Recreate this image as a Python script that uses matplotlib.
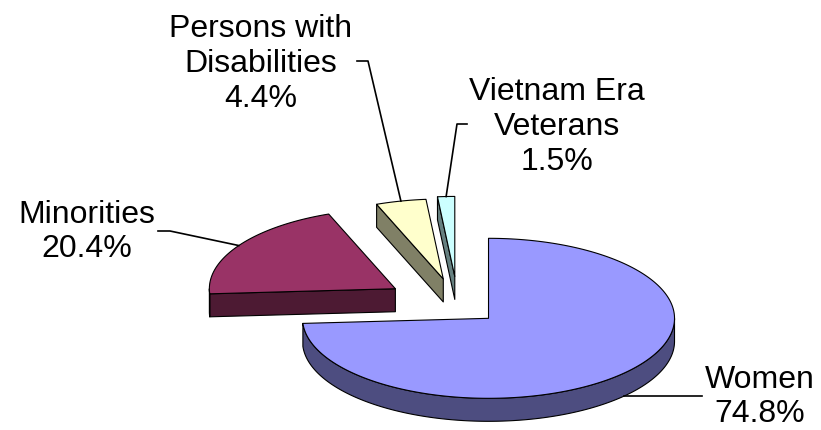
import numpy as np
import matplotlib
matplotlib.use("Agg")
import matplotlib.pyplot as plt
from matplotlib.patches import Polygon

# ---- data ----
categories = ["Women", "Minorities", "Persons with\nDisabilities", "Vietnam Era\nVeterans"]
values = [74.8, 20.4, 4.4, 1.5]
value_labels = ["74.8%", "20.4%", "4.4%", "1.5%"]

# ---- style / layout ----
top_colors = ["#9999FF", "#993366", "#FFFFCC", "#CCFFFF"]
side_colors = ["#4D4D80", "#4D1A33", "#808066", "#668080"]
explode = [0.225, 0.40, 0.347, 0.37]
CX, CY = 458.0, 307.0      # pie centre (pixel-like data units, y down)
RX, RY = 186.0, 80.0       # ellipse radii of top face
DEPTH = 23.0               # thickness
START = 90.0               # start angle, clockwise
FONT = dict(family=["Liberation Sans", "DejaVu Sans"], fontsize=23)
label_pos = [(760, 397), (87, 232), (261, 64), (557, 127)]
label_hook = [(702, None), (158, 232), (357, 62), (467, 125)]
hook_len = [0, 12, 11, -10]

fig = plt.figure(figsize=(8.21, 4.31), dpi=100)
ax = fig.add_axes([0, 0, 1, 1])
ax.set_xlim(0, 821)
ax.set_ylim(431, 0)
ax.axis("off")

total = float(sum(values))
angles = []
cur = START
for v in values:
    span = v / total * 360.0
    angles.append((cur - span, cur))   # counter-clockwise from a to b
    cur -= span

def rim(cx, cy, th_deg, dy=0.0):
    t = np.radians(th_deg)
    return cx + RX * np.cos(t), cy - RY * np.sin(t) + dy

slices = []
for i, (a, b) in enumerate(angles):
    mid = np.radians((a + b) / 2)
    ax_ = CX + explode[i] * RX * np.cos(mid)
    ay_ = CY - explode[i] * RY * np.sin(mid)
    slices.append((ay_, i, ax_, a, b))

attach = {}
for ay_, i, ax_, a, b in sorted(slices):
    kw = dict(edgecolor="black", linewidth=0.8, joinstyle="round")
    # radial side faces
    for phi, vis in ((a, np.cos(np.radians(a)) > 0), (b, np.cos(np.radians(b)) < 0)):
        if vis:
            px, py = rim(ax_, ay_, phi)
            poly = [(ax_, ay_), (px, py), (px, py + DEPTH), (ax_, ay_ + DEPTH)]
            ax.add_patch(Polygon(poly, closed=True, facecolor=side_colors[i], **kw))
    # outer front wall
    th = np.linspace(a, b, 400)
    front = th[np.sin(np.radians(th)) < 0]
    if len(front) > 1:
        xs, ys = rim(ax_, ay_, front)
        poly = list(zip(xs, ys)) + list(zip(xs[::-1], ys[::-1] + DEPTH))
        ax.add_patch(Polygon(poly, closed=True, facecolor=side_colors[i], **kw))
    # top face
    xs, ys = rim(ax_, ay_, th)
    poly = [(ax_, ay_)] + list(zip(xs, ys))
    ax.add_patch(Polygon(poly, closed=True, facecolor=top_colors[i], **kw))
    mid = (a + b) / 2
    if i == 0:
        attach[i] = rim(ax_, ay_, mid, DEPTH)
    else:
        attach[i] = rim(ax_, ay_, mid)

# labels & leader lines
for i in range(len(values)):
    tx, ty = label_pos[i]
    ax.text(tx, ty, categories[i] + "\n" + value_labels[i], ha="center", va="center",
            linespacing=1.2, **FONT)
    px, py = attach[i]
    hx, hy = label_hook[i]
    if hy is None:
        ax.plot([px, hx], [py, py], color="black", lw=1.2)
    else:
        ax.plot([hx, hx + hook_len[i], px], [hy, hy, py], color="black", lw=1.2)

fig.savefig("out.png", dpi=100)
